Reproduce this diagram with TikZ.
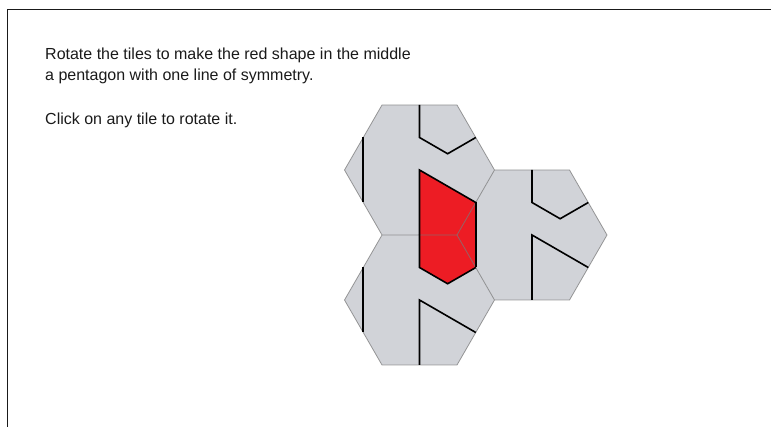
\documentclass[tikz,border=0pt]{standalone}
\usepackage{fontspec}
\setmainfont{Liberation Sans}
\definecolor{ink}{HTML}{1A1A1A}
\definecolor{tilegrey}{HTML}{D1D3D8}
\definecolor{edgegrey}{HTML}{7A7A7A}
\definecolor{shapered}{HTML}{ED1C24}

\tikzset{
  prompt/.style={anchor=base west,align=left,inner sep=0pt,text=ink,
    font=\fontsize{16}{21}\selectfont},
  groove/.style={draw=black,line width=1.6pt,line join=miter}
}

\begin{document}
\begin{tikzpicture}[x=1pt,y=-1pt]
  \path[use as bounding box] (0,0) rectangle (771,427);
  % page frame, only top and left edges show
  \draw[ink,line width=1pt] (7.5,427) -- (7.5,9.5) -- (771,9.5);

  % base of a two-line node is its last line
  \node[prompt] (task) at (45,81) {Rotate the tiles to make the red shape in the middle\\a pentagon with one line of symmetry.};
  \node[prompt] (hint) at (45,125) {Click on any tile to rotate it.};

  % three identical hex tiles, radius 75, meeting at (457,235)
  \foreach \cx/\cy in {419.5/170,419.5/300,532/235}{
    \fill[tilegrey,shift={(\cx,\cy)}] (-75,0) -- (-37.5,-65) -- (37.5,-65) -- (75,0) -- (37.5,65) -- (-37.5,65) -- cycle;
  }
  % red shape made of one piece from each tile
  \fill[shapered] (419.5,170) -- (475.8,202.5) -- (475.8,267.5) -- (447.6,283.8) -- (419.5,267.5) -- cycle;
  \draw[edgegrey,line width=.8pt,draw opacity=.75]
    \foreach \cx/\cy in {419.5/170,419.5/300,532/235}{
      [shift={(\cx,\cy)}] (-75,0) -- (-37.5,-65) -- (37.5,-65) -- (75,0) -- (37.5,65) -- (-37.5,65) -- cycle
    };

  % grooves on each tile
  \foreach \cx/\cy in {419.5/170,419.5/300,532/235}{
    \begin{scope}[shift={(\cx,\cy)}]
      \draw[groove] (0,-65) -- (0,-32.5) -- (28.15,-16.25) -- (56.3,-32.5);
      \draw[groove] (-56.3,-32.5) -- (-56.3,32.5);
      \draw[groove] (0,65) -- (0,0) -- (56.3,32.5);
    \end{scope}
  }
\end{tikzpicture}
\end{document}
